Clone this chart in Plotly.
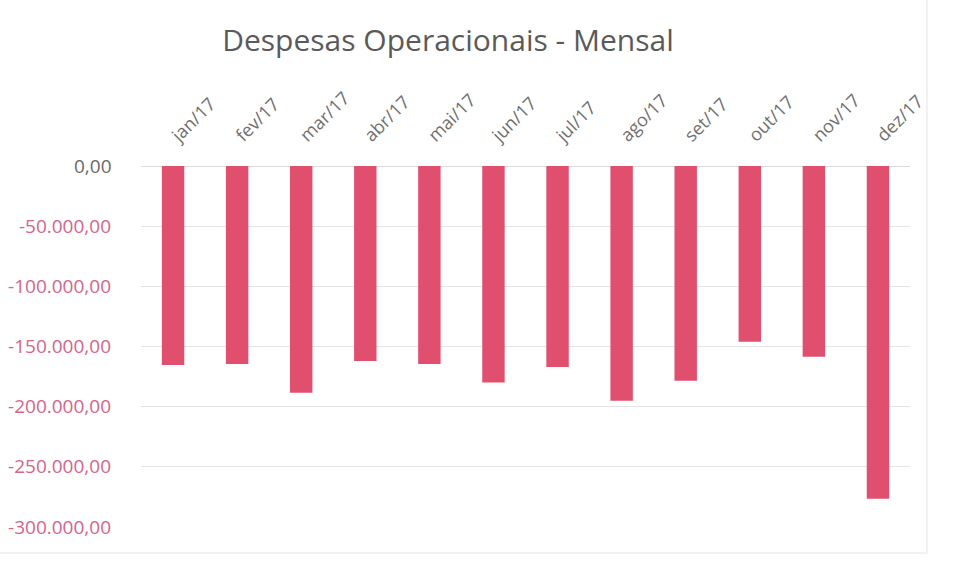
import plotly.graph_objects as go

# Monthly operating expenses (R$), 2017
months = ["jan/17", "fev/17", "mar/17", "abr/17", "mai/17", "jun/17",
          "jul/17", "ago/17", "set/17", "out/17", "nov/17", "dez/17"]
expenses = [-165300, -164500, -188500, -162000, -164500, -180000,
            -167000, -195000, -178500, -146000, -158500, -276500]

tick_values = [0, -50000, -100000, -150000, -200000, -250000, -300000]
tick_labels = ["", "-50.000,00", "-100.000,00", "-150.000,00",
               "-200.000,00", "-250.000,00", "-300.000,00"]

W, H = 963, 562
left, right, top, bottom = 141, 910, 166, 527

fig = go.Figure(go.Bar(
    x=months, y=expenses,
    marker=dict(color="#E0506E", line=dict(width=0)),
    width=0.35,
))

fig.update_layout(
    width=W, height=H,
    margin=dict(l=left, r=W - right, t=top, b=H - bottom, autoexpand=False),
    paper_bgcolor="white", plot_bgcolor="white",
    showlegend=False,
    title=dict(text="Despesas Operacionais - Mensal", x=448 / W, xanchor="center",
               y=1 - 40 / H, yanchor="middle",
               font=dict(family="Open Sans", size=30, color="#5a5a5a")),
    font=dict(family="Open Sans"),
)

fig.update_xaxes(
    side="top", tickangle=-45, showgrid=False, showline=False, ticks="",
    tickfont=dict(size=18, color="#707070"), ticklabelstandoff=16,
    automargin=False,
)

fig.update_yaxes(
    range=[-300000, 0], tickvals=tick_values, ticktext=tick_labels,
    showgrid=True, gridcolor="#e4e4e4", gridwidth=1,
    zeroline=True, zerolinecolor="#dcdcdc", zerolinewidth=1,
    tickfont=dict(size=19, color="#d6648a"), ticklabelstandoff=29,
    automargin=False,
)

# zero label in neutral gray
fig.add_annotation(x=0, xref="paper", y=0, yref="y", text="0,00",
                   showarrow=False, xanchor="right", xshift=-27,
                   font=dict(size=19, color="#6a6a6a"))

# outer chart frame edge (right and bottom)
pw, ph = right - left, bottom - top
fig.add_shape(type="line", xref="paper", yref="paper",
              x0=(927 - left) / pw, x1=(927 - left) / pw,
              y0=(bottom - 553) / ph, y1=1.5,
              line=dict(color="#ececec", width=1.5))
fig.add_shape(type="line", xref="paper", yref="paper",
              x0=(0 - left) / pw, x1=(927 - left) / pw,
              y0=(bottom - 553) / ph, y1=(bottom - 553) / ph,
              line=dict(color="#ececec", width=1.5))

fig.write_html("out.html")
